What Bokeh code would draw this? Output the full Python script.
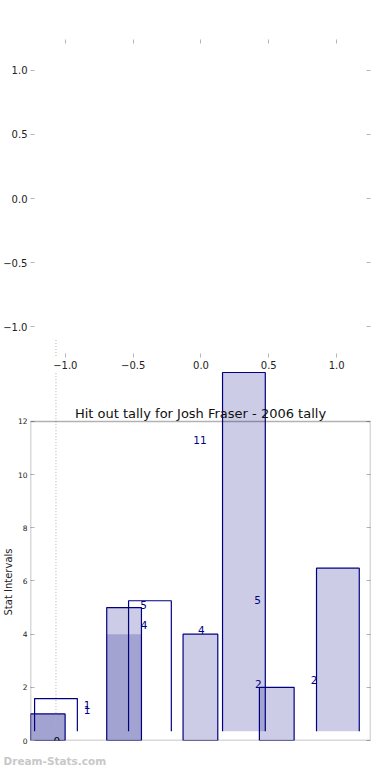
from bokeh.plotting import figure
from bokeh.layouts import column
from bokeh.models import Range1d, LinearAxis, FixedTicker, BoxAnnotation, Label, Grid, Title
from bokeh.core.properties import value
from bokeh.embed import file_html
from bokeh.resources import INLINE

# ------------------------------------------------------------------ data
title_text = "Hit out tally for Josh Fraser - 2006 tally"
y_label_text = "Stat Intervals"
watermark_text = "Dream-Stats.com"

# main series (main axes)
main_slots = [0, 1, 2, 3]
main_vals = [1, 5, 4, 2]
# second series overlaid on the first two slots (no edge)
over_slots = [0, 1]
over_vals = [1, 4]
# twin-axes series (own x and y scale)
twin_slots = [0, 1, 2, 3]
twin_vals = [1, 4, 11, 5]
twin_fill_alpha = [0.0, 0.0, 0.2, 0.2]
# dotted guide on the twin axes
guide_x = [0]
guide_top = [12]

# value labels (main-axes units)
val_text = ["1", "1", "5", "4", "4", "11", "5", "2", "2"]
val_x = [0.514, 0.514, 1.255, 1.263, 2.011, 1.995, 2.748, 2.76, 3.49]
val_y = [1.32, 1.155, 5.1, 4.35, 4.14, 11.31, 5.3, 2.13, 2.29]
zero_label = "0"

# tick sets
pie_ticks = [-1.0, -0.5, 0.0, 0.5, 1.0]
pie_tick_labels = ["\u22121.0", "\u22120.5", "0.0", "0.5", "1.0"]
bar_ticks = [0, 2, 4, 6, 8, 10, 12]

# ------------------------------------------------------------------ layout / scales
W = 390
UP_H = 371
LO_H = 409
BL, BR = 28, 20
LO_BOTTOM = 40
BAR_W = 0.455

pie_x = Range1d(-1.257, 1.25)
pie_y = Range1d(-1.242, 1.242)
main_x = Range1d(-0.226, 4.228)
main_y = Range1d(0, 13.88)
twin_x = Range1d(-0.271, 3.347)
twin_y = Range1d(-0.285, 11.03)

NAVY = "navy"
TICK_GREY = "#b4b4b4"
FONT = "DejaVu Sans"


def frac(r, v):
    return (v - r.start) / (r.end - r.start)


def styled_axis(ticks, labels=None, font_size="10px", standoff=3):
    ax = LinearAxis(ticker=FixedTicker(ticks=ticks), axis_line_color=None,
                    major_tick_in=4, major_tick_out=0,
                    major_tick_line_color=TICK_GREY, minor_tick_line_color=None,
                    major_label_standoff=standoff, major_label_text_font=FONT,
                    major_label_text_color="#222222")
    if labels is None:
        ax.major_label_text_font_size = "0px"
        ax.major_label_text_color = None
        ax.major_label_text_alpha = 0
        ax.major_label_standoff = 0
    else:
        ax.major_label_text_font_size = font_size
        if labels != "auto":
            ax.major_label_overrides = {float(t): l for t, l in zip(ticks, labels)}
    return ax


def kill_grids(fig):
    for r in list(fig.center):
        if isinstance(r, Grid):
            r.visible = False


# ------------------------------------------------------------------ upper (empty) axes
up = figure(width=W, height=UP_H, x_range=pie_x, y_range=pie_y,
            x_axis_location=None, y_axis_location=None,
            toolbar_location=None, output_backend="svg",
            min_border_left=BL, min_border_right=BR,
            min_border_top=39, min_border_bottom=UP_H - 357,
            outline_line_color=None, background_fill_color="white",
            border_fill_color="white")
kill_grids(up)
up.add_layout(styled_axis(pie_ticks, pie_tick_labels, standoff=3), "below")
up.add_layout(styled_axis(pie_ticks, pie_tick_labels, standoff=3), "left")
up.add_layout(styled_axis(pie_ticks), "above")
up.add_layout(styled_axis(pie_ticks), "right")

# continuation of the dotted guide (converted from twin-axes units)
gx_pie = pie_x.start + frac(twin_x, guide_x[0]) * (pie_x.end - pie_x.start)
C_Y0_PX, C_PX = 730.7, 32.6          # twin y=0 pixel row, pixels per unit
PIE_Y0_PX, PIE_PX = 198.0, 128.0      # pie y=0 pixel row, pixels per unit
gy_pie = (PIE_Y0_PX - (C_Y0_PX - guide_top[0] * C_PX)) / PIE_PX
up.segment(x0=[gx_pie], y0=[gy_pie], x1=[gx_pie], y1=[pie_y.start],
           line_color="#b0b0b0", line_dash="1 2", line_width=1)

# ------------------------------------------------------------------ lower (bar) axes
lo = figure(width=W, height=LO_H, x_range=main_x, y_range=main_y,
            x_axis_location=None, y_axis_location=None,
            toolbar_location=None, output_backend="svg",
            min_border_left=BL, min_border_right=BR,
            min_border_top=0, min_border_bottom=LO_BOTTOM,
            outline_line_color=None, background_fill_color="white",
            border_fill_color="white")
kill_grids(lo)
lo.extra_x_ranges = {"twin": twin_x}
lo.extra_y_ranges = {"twin": twin_y}

lo.add_layout(styled_axis(bar_ticks, "auto", font_size="7.5px", standoff=3), "left")
lo.add_layout(styled_axis(bar_ticks), "right")

# y-axis title (left panel); anchored from the frame bottom so that it is
# centred on the 0..12 box
ytitle = Title(text=y_label_text, align="left", offset=125, standoff=1,
               text_font=FONT, text_font_size="10px", text_font_style="normal",
               text_color="#222222")
lo.add_layout(ytitle, "left")

# watermark (bottom panel)
wm = Title(text=watermark_text, align="left", offset=-BL + 1, standoff=25,
           text_font=FONT, text_font_size="10.5px", text_font_style="bold",
           text_color="#c8c8c8")
lo.add_layout(wm, "below")

# bars
lo.vbar(x=main_slots, width=BAR_W, top=main_vals, bottom=0,
        fill_color=NAVY, fill_alpha=0.2, line_color=NAVY, line_width=1.2)
lo.vbar(x=over_slots, width=BAR_W, top=over_vals, bottom=0,
        fill_color=NAVY, fill_alpha=0.2, line_color=None)
lo.vbar(x=twin_slots, width=BAR_W, top=twin_vals, bottom=0,
        fill_color=NAVY, fill_alpha=twin_fill_alpha, line_color=None,
        x_range_name="twin", y_range_name="twin")

# dotted guide
lo.segment(x0=guide_x, y0=[0], x1=guide_x, y1=guide_top,
           x_range_name="twin", y_range_name="twin",
           line_color="#b0b0b0", line_dash="1 2", line_width=1)

# value labels
lo.text(x=val_x, y=val_y, text=val_text, text_color=NAVY,
        text_font=value(FONT), text_font_size="10.5px",
        text_align="center", text_baseline="middle")

# twin series outline (sides + top, no bottom edge)
xs = [[s - BAR_W / 2, s - BAR_W / 2, s + BAR_W / 2, s + BAR_W / 2] for s in twin_slots]
ys = [[0, v, v, 0] for v in twin_vals]
lo.multi_line(xs=xs, ys=ys, line_color=NAVY, line_width=1.2,
              x_range_name="twin", y_range_name="twin")

# axes box (0..12)
lo.add_layout(BoxAnnotation(left=main_x.start, right=main_x.end, bottom=0, top=12,
                            fill_color=None, line_color="black", line_width=1.5))

# chart title
lo.add_layout(Label(x=(main_x.start + main_x.end) / 2, y=12.31, text=title_text,
                    text_align="center", text_baseline="middle",
                    text_font=FONT, text_font_size="13px", text_color="#111111"))

# "0" marker label on twin x axis
lo.add_layout(Label(x=0.01, y=0, x_range_name="twin", text=zero_label,
                    text_align="center", text_baseline="middle",
                    text_font=FONT, text_font_size="10.5px", text_color="black"))

page = column(up, lo, spacing=0)
open("out.html", "w").write(file_html(page, INLINE))
